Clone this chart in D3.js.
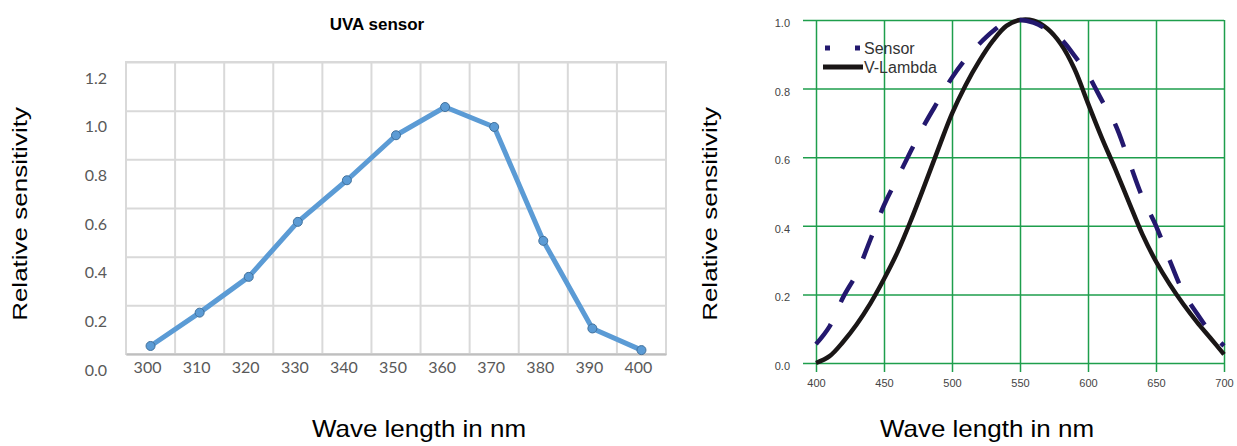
<!DOCTYPE html>
<html>
<head>
<meta charset="utf-8">
<script src="https://cdn.jsdelivr.net/npm/d3@7"></script>
<style>
  body { margin: 0; background: #fff; }
  svg { display: block; }
</style>
</head>
<body>
<div id="chart"></div>
<script>
// ---- data ----
var uvaWaves = ["300", "310", "320", "330", "340", "350", "360", "370", "380", "390", "400"];
var uvaValues = [0.033, 0.17, 0.317, 0.543, 0.714, 0.899, 1.015, 0.933, 0.465, 0.105, 0.016];
var uvaTicks = [0, 0.2, 0.4, 0.6, 0.8, 1.0, 1.2];

var visWaves = [400, 410, 420, 430, 440, 450, 460, 470, 480, 490, 500, 510, 520, 530, 540, 550,
                560, 570, 580, 590, 600, 610, 620, 630, 640, 650, 660, 670, 680, 690, 700];
var sensorValues = [0.055, 0.107, 0.192, 0.262, 0.36, 0.46, 0.54, 0.62, 0.697, 0.765, 0.832, 0.886,
                    0.93, 0.967, 0.995, 1.0, 0.992, 0.972, 0.945, 0.896, 0.84, 0.767, 0.696, 0.59,
                    0.483, 0.40, 0.30, 0.207, 0.145, 0.09, 0.05];
var vLambdaValues = [0.0, 0.02, 0.062, 0.113, 0.174, 0.245, 0.324, 0.418, 0.52, 0.625, 0.727, 0.81,
                     0.88, 0.939, 0.983, 1.0, 0.998, 0.975, 0.93, 0.858, 0.757, 0.658, 0.566, 0.47,
                     0.375, 0.296, 0.23, 0.172, 0.12, 0.073, 0.025];
var visXTicks = [400, 450, 500, 550, 600, 650, 700];
var visYTicks = [0, 0.2, 0.4, 0.6, 0.8, 1.0];

var svg = d3.select("#chart")
  .append("svg")
    .attr("width", 1237)
    .attr("height", 446);

// ---------------- left chart: UVA sensor ----------------
var left = {x0: 126, x1: 666, y0: 62, y1: 354};

var x = d3.scaleBand()
    .domain(uvaWaves)
    .range([left.x0, left.x1]);

var y = d3.scaleLinear()
    .domain([0, 1.2])
    .range([left.y1, left.y0]);

var g1 = svg.append("g");

// horizontal grid + labels
var yAxis1 = g1.append("g")
    .attr("transform", "translate(" + left.x0 + ",0)")
    .call(d3.axisLeft(y).tickValues(uvaTicks).tickFormat(d3.format(".1f"))
      .tickSize(-(left.x1 - left.x0)).tickPadding(19));
yAxis1.select(".domain").remove();
yAxis1.selectAll("line").attr("stroke", "#d9d9d9").attr("stroke-width", 2);
yAxis1.selectAll("text")
    .attr("dy", 21)
    .style("font-family", "Lato, 'Open Sans', sans-serif")
    .style("font-size", "16px")
    .attr("fill", "#595959");

// vertical grid on band edges
g1.append("g").selectAll("line")
  .data(uvaWaves.slice(1))
  .enter()
  .append("line")
    .attr("x1", function(d) { return x(d); })
    .attr("x2", function(d) { return x(d); })
    .attr("y1", left.y0)
    .attr("y2", left.y1)
    .attr("stroke", "#d9d9d9")
    .attr("stroke-width", 2);

g1.append("rect")
    .attr("x", left.x0)
    .attr("y", left.y0)
    .attr("width", left.x1 - left.x0)
    .attr("height", left.y1 - left.y0)
    .attr("fill", "none")
    .attr("stroke", "#d9d9d9")
    .attr("stroke-width", 2);

var xAxis1 = g1.append("g")
    .attr("transform", "translate(0," + left.y1 + ")")
    .call(d3.axisBottom(x).tickSize(0).tickPadding(8));
xAxis1.select(".domain").attr("stroke", "#bfbfbf").attr("stroke-width", 2);
xAxis1.selectAll("text")
    .attr("dx", -3)
    .style("font-family", "Lato, 'Open Sans', sans-serif")
    .style("font-size", "16px")
    .attr("fill", "#595959");

var line1 = d3.line()
    .x(function(d, i) { return x(uvaWaves[i]) + x.bandwidth() / 2; })
    .y(function(d) { return y(d); });

g1.append("path")
    .datum(uvaValues)
    .attr("d", line1)
    .attr("fill", "none")
    .attr("stroke", "#5b9bd5")
    .attr("stroke-width", 5)
    .attr("stroke-linejoin", "round")
    .attr("stroke-linecap", "round");

g1.selectAll("circle")
  .data(uvaValues)
  .enter()
  .append("circle")
    .attr("cx", function(d, i) { return x(uvaWaves[i]) + x.bandwidth() / 2; })
    .attr("cy", function(d) { return y(d); })
    .attr("r", 4.5)
    .attr("fill", "#5b9bd5")
    .attr("stroke", "#41719c")
    .attr("stroke-width", 1);

g1.append("text")
    .attr("x", 377)
    .attr("y", 30)
    .attr("text-anchor", "middle")
    .style("font-family", "Arial, 'Liberation Sans', sans-serif")
    .style("font-weight", "bold")
    .style("font-size", "17px")
    .text("UVA sensor");

// ---------------- right chart: Sensor vs V-Lambda ----------------
var right = {x0: 816, x1: 1224, y0: 20, y1: 363};

var x2 = d3.scaleLinear()
    .domain([400, 700])
    .range([right.x0, right.x1]);

var y2 = d3.scaleLinear()
    .domain([0, 1])
    .range([right.y1, right.y0]);

var g2 = svg.append("g");
var green = "#1e9e4c";

var yAxis2 = g2.append("g")
    .attr("transform", "translate(803,0)")
    .call(d3.axisLeft(y2).tickValues(visYTicks).tickFormat(d3.format(".1f"))
      .tickSize(-(right.x1 - 803)).tickPadding(13));
yAxis2.select(".domain").remove();
yAxis2.selectAll("line").attr("stroke", green).attr("stroke-width", 1.5);
yAxis2.selectAll("text")
    .attr("dy", "0.32em")
    .attr("y", 3)
    .style("font-family", "Arial, 'Liberation Sans', sans-serif")
    .style("font-size", "11px")
    .attr("fill", "#444");

var xAxis2 = g2.append("g")
    .attr("transform", "translate(0,372)")
    .call(d3.axisBottom(x2).tickValues(visXTicks).tickFormat(d3.format("d"))
      .tickSize(-(372 - right.y0)).tickPadding(7));
xAxis2.select(".domain").remove();
xAxis2.selectAll("line").attr("stroke", green).attr("stroke-width", 1.5);
xAxis2.selectAll("text")
    .style("font-family", "Arial, 'Liberation Sans', sans-serif")
    .style("font-size", "11px")
    .attr("fill", "#444");

var line2 = d3.line()
    .x(function(d, i) { return x2(visWaves[i]); })
    .y(function(d) { return y2(d); })
    .curve(d3.curveCatmullRom.alpha(0.5));

g2.append("path")
    .datum(vLambdaValues)
    .attr("d", line2)
    .attr("fill", "none")
    .attr("stroke", "#1a1616")
    .attr("stroke-width", 4.5);

g2.append("path")
    .datum(sensorValues)
    .attr("d", line2)
    .attr("fill", "none")
    .attr("stroke", "#23186e")
    .attr("stroke-width", 4.5)
    .attr("stroke-dasharray", "25,24");

// legend
var legend = g2.append("g");
legend.append("line")
    .attr("x1", 825).attr("x2", 861).attr("y1", 48).attr("y2", 48)
    .attr("stroke", "#23186e").attr("stroke-width", 5)
    .attr("stroke-dasharray", "5,25");
legend.append("line")
    .attr("x1", 823).attr("x2", 863).attr("y1", 67).attr("y2", 67)
    .attr("stroke", "#1a1616").attr("stroke-width", 5);
legend.selectAll("text")
  .data(["Sensor", "V-Lambda"])
  .enter()
  .append("text")
    .attr("x", 864)
    .attr("y", function(d, i) { return 54 + i * 19; })
    .style("font-family", "Arial, 'Liberation Sans', sans-serif")
    .style("font-size", "16px")
    .attr("fill", "#333")
    .text(function(d) { return d; });

// ---------------- shared axis titles ----------------
[{x: 27, y: 214}, {x: 717, y: 214}].forEach(function(p) {
  svg.append("text")
      .attr("transform", "translate(" + p.x + "," + p.y + ") rotate(-90) scale(1,0.8)")
      .attr("text-anchor", "middle")
      .style("font-family", "Arial, 'Liberation Sans', sans-serif")
      .style("font-size", "26px")
      .attr("fill", "#000")
      .text("Relative sensitivity");
});

[{x: 419, y: 437}, {x: 987, y: 437}].forEach(function(p) {
  svg.append("text")
      .attr("transform", "translate(" + p.x + "," + p.y + ") scale(1,0.9)")
      .attr("text-anchor", "middle")
      .style("font-family", "Arial, 'Liberation Sans', sans-serif")
      .style("font-size", "26px")
      .attr("fill", "#000")
      .text("Wave length in nm");
});
</script>
</body>
</html>
